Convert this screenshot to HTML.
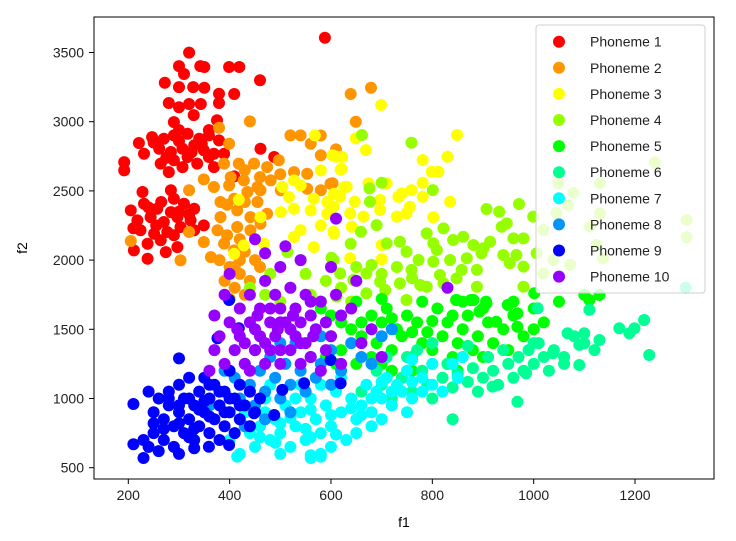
<!DOCTYPE html>
<html><head><meta charset="utf-8"><style>
html,body{margin:0;padding:0;background:#fff;}
svg{display:block;font-family:"Liberation Sans","DejaVu Sans",sans-serif;}
</style></head><body>
<svg id="chart" width="736" height="541" viewBox="0 0 736 541" xmlns="http://www.w3.org/2000/svg">
<rect x="0" y="0" width="736" height="541" fill="#fff"/>
<g id="points"></g>
<rect x="94" y="17" width="620" height="462" fill="none" stroke="#000" stroke-width="1"/>
<g id="xaxis"></g>
<g id="yaxis"></g>
<text x="404" y="527" font-size="14" text-anchor="middle" fill="#000">f1</text>
<text x="0" y="0" font-size="14" text-anchor="middle" fill="#000" transform="translate(27,248) rotate(-90)">f2</text>
<g id="legend"></g>
</svg>
<script>
const xTicks=[200,400,600,800,1000,1200];
const yTicks=[500,1000,1500,2000,2500,3000,3500];
const seriesNames=["Phoneme 1","Phoneme 2","Phoneme 3","Phoneme 4","Phoneme 5","Phoneme 6","Phoneme 7","Phoneme 8","Phoneme 9","Phoneme 10"];
const seriesColors=["#ff0000","#ff9500","#ffff00","#95ff00","#00ff00","#00ff95","#00ffff","#0095ff","#0000ff","#9500ff"];
const p1=[[588,3607],[320,3499],[300,3402],[342,3402],[350,3395],[399,3395],[419,3395],[310,3345],[460,3300],[272,3282],[300,3250],[328,3250],[350,3245],[379,3202],[409,3200],[280,3135],[300,3105],[320,3128],[343,3128],[379,3135],[329,3048],[290,2997],[375,3011],[300,2939],[359,2939],[221,2846],[247,2889],[270,2877],[290,2901],[317,2913],[340,2877],[359,2901],[379,2865],[231,2769],[261,2805],[284,2781],[307,2805],[330,2829],[349,2793],[369,2769],[264,2697],[290,2721],[317,2745],[336,2697],[359,2745],[389,2769],[280,2636],[307,2672],[369,2672],[192,2708],[192,2648],[461,2805],[488,2745],[409,2605],[228,2492],[284,2504],[205,2359],[231,2407],[257,2371],[290,2444],[310,2407],[330,2371],[218,2287],[244,2311],[270,2275],[297,2311],[323,2287],[349,2251],[224,2215],[251,2191],[277,2203],[303,2239],[238,2118],[264,2143],[297,2094],[238,2010],[274,2058],[211,2070],[330,2215],[284,2347],[250,2850],[300,2860],[325,2780],[275,2740],[345,2840],[240,2380],[265,2420],[300,2350],[255,2250],[290,2180],[320,2330],[210,2230]];
const p2=[[440,3002],[379,2957],[399,2841],[520,2901],[540,2901],[560,2841],[580,2757],[389,2697],[418,2697],[448,2697],[474,2672],[497,2721],[527,2636],[553,2624],[402,2600],[349,2583],[369,2528],[399,2540],[428,2576],[455,2528],[481,2576],[320,2504],[382,2420],[409,2444],[435,2492],[461,2504],[501,2504],[553,2516],[580,2504],[599,2552],[382,2311],[415,2359],[441,2311],[474,2335],[415,2239],[441,2215],[376,2215],[320,2203],[205,2138],[349,2131],[389,2119],[409,2070],[363,2022],[303,1998],[461,2263],[400,1950],[420,1900],[440,1850],[410,1800],[430,1750],[400,1720],[460,1950],[390,1850],[450,2000],[420,2000],[380,2000],[639,3200],[679,3246],[649,2999],[603,2555],[580,2900],[610,2800],[430,2650],[460,2600],[500,2620],[395,2400],[430,2420],[455,2420],[420,2150],[395,2180],[430,2060],[410,1950]];
const p3=[[568,2901],[603,2757],[622,2745],[580,2648],[619,2653],[527,2576],[504,2528],[540,2540],[606,2480],[626,2528],[418,2436],[517,2456],[566,2444],[593,2420],[461,2311],[501,2347],[527,2371],[560,2359],[593,2335],[540,2215],[580,2251],[428,2106],[468,2118],[409,2046],[527,2167],[566,2094],[606,2191],[699,3121],[849,2904],[649,2880],[669,2795],[611,2747],[621,2747],[781,2723],[830,2747],[621,2658],[799,2639],[812,2639],[674,2555],[710,2555],[781,2559],[631,2530],[740,2482],[759,2506],[733,2458],[781,2458],[835,2422],[618,2458],[647,2422],[697,2434],[756,2386],[605,2386],[638,2338],[664,2314],[697,2362],[730,2314],[749,2338],[802,2309],[605,2205],[641,2241],[700,2109],[700,2006],[638,2013]];
const p4=[[661,2904],[759,2848],[700,2559],[676,2518],[801,2506],[677,2422],[907,2369],[932,2350],[971,2405],[999,2314],[690,2253],[659,2205],[789,2193],[822,2229],[947,2265],[937,2241],[914,2133],[960,2157],[980,2157],[736,2133],[802,2121],[861,2169],[841,2145],[881,2109],[710,2121],[749,2061],[809,2073],[901,2085],[940,2037],[966,2037],[773,2001],[802,1989],[835,2001],[868,2013],[897,2049],[953,1977],[980,1953],[605,2001],[680,1965],[759,1929],[815,1892],[858,1929],[888,1929],[822,1832],[848,1868],[776,1820],[789,1808],[618,1904],[644,1856],[670,1904],[697,1844],[736,1832],[888,1808],[980,1808],[749,1712],[611,1736],[670,1760],[707,1784],[1239,2706],[1131,2555],[1078,2487],[1049,2555],[1068,2398],[1131,2338],[1045,2338],[1111,2242],[1302,2290],[1302,2165],[1019,2218],[1006,2049],[1039,2001],[1072,1965],[1137,2013],[1019,1904],[1124,2109],[514,2058],[601,2017],[639,2118],[480,1900],[520,1800],[550,1900],[500,1700],[560,1750],[540,2000],[590,1850],[580,1700],[470,1750],[440,1800],[620,1800],[650,1950],[700,1900],[730,1950],[760,1870],[640,1700]];
const p5=[[560,1700],[580,1650],[600,1600],[620,1550],[650,1700],[640,1500],[660,1450],[680,1600],[690,1400],[700,1550],[710,1650],[720,1350],[730,1500],[740,1450],[750,1600],[760,1300],[770,1550],[780,1400],[790,1480],[800,1350],[810,1650],[820,1450],[830,1550],[840,1300],[850,1400],[860,1500],[870,1600],[880,1350],[890,1450],[900,1650],[910,1550],[920,1400],[940,1500],[960,1600],[980,1450],[1000,1650],[1020,1550],[1050,1700],[1100,1750],[600,1450],[620,1350],[650,1250],[700,1250],[720,1200],[680,1300],[760,1200],[800,1250],[850,1200],[900,1300],[950,1350],[1000,1500],[590,1300],[610,1250],[860,1700],[960,1700],[830,1250],[780,1700],[700,1720],[848,1712],[881,1712],[907,1688],[950,1676],[1001,1760],[949,1676],[968,1615],[926,1555],[893,1628],[906,1700],[876,1712],[847,1712],[968,1519],[1110,1712],[1130,1748],[660,1550],[720,1580],[760,1480],[800,1560],[840,1600]];
const p6=[[660,1050],[700,1100],[720,1000],[740,1150],[760,1050],[780,1200],[790,1100],[800,1000],[820,1150],[830,1250],[840,1080],[850,1180],[860,1300],[870,1120],[880,1220],[890,1050],[900,1150],[910,1300],[920,1200],[930,1100],[940,1350],[950,1250],[960,1150],[970,1300],[980,1200],[990,1350],[1000,1250],[1010,1400],[1020,1300],[1030,1200],[1040,1350],[1060,1300],[1080,1450],[1100,1400],[1120,1350],[1300,1800],[1060,1250],[1000,1400],[840,850],[750,1300],[800,1400],[870,1380],[690,1200],[710,1300],[770,1350],[1169,1507],[1199,1507],[1218,1567],[1189,1471],[1228,1314],[1130,1423],[1100,1471],[1090,1387],[1067,1471],[1090,1242],[1038,1327],[1008,1652],[1110,1640],[968,977],[919,1086],[985,1182]];
const p7=[[400,700],[420,600],[440,750],[450,650],[460,800],[470,900],[480,700],[490,850],[500,750],[510,950],[520,650],[530,800],[540,900],[550,700],[560,1000],[560,570],[570,850],[580,580],[580,750],[590,950],[600,800],[610,1050],[620,900],[630,700],[640,1000],[650,850],[660,950],[670,1100],[680,900],[690,1050],[700,1000],[710,1150],[720,950],[730,1100],[740,1050],[750,1200],[760,1000],[780,1150],[800,1100],[820,1050],[850,1150],[840,1250],[500,600],[530,1000],[470,1000],[600,650],[650,750],[700,850],[620,1150],[580,1100],[430,900],[480,1100],[540,1100],[750,900],[680,800],[800,1250],[860,1300],[760,1280],[415,580],[560,590],[580,600],[520,860],[560,920],[600,880],[640,930],[680,1000],[720,1050],[500,820],[460,720],[550,780],[610,740],[660,880],[700,1120],[760,1120],[780,1050],[560,720],[490,680]];
const p8=[[360,950],[380,1050],[400,900],[410,1150],[420,1000],[430,1250],[440,1100],[450,950],[460,1200],[470,1050],[480,1300],[490,1150],[500,1000],[510,1250],[520,1100],[530,1400],[540,1200],[550,1050],[560,1300],[570,1150],[580,1250],[600,1350],[620,1200],[640,1400],[660,1300],[700,1450],[720,1500],[470,850],[520,900],[450,1350],[580,1450],[600,1100],[500,1400],[680,1250],[430,800],[390,1200]];
const p9=[[210,960],[210,670],[230,700],[230,570],[240,1050],[240,650],[250,900],[250,750],[260,1000],[260,620],[270,850],[270,700],[280,950],[280,1050],[290,800],[290,650],[300,1100],[300,900],[300,600],[310,1000],[310,750],[320,850],[320,1150],[330,950],[330,700],[340,1050],[340,800],[350,900],[350,1150],[360,1000],[360,750],[370,850],[370,1100],[380,950],[380,700],[390,1050],[390,800],[400,900],[400,1200],[410,1000],[410,750],[420,850],[420,1100],[430,950],[440,1050],[440,800],[450,900],[460,1000],[300,1290],[330,640],[359,652],[399,664],[399,1712],[376,1435],[418,1507],[599,1278],[619,1110],[547,1110],[448,893],[488,881],[504,1062],[280,1000],[300,950],[320,1000],[340,920],[360,870],[380,1050],[300,820],[330,780],[360,1100],[400,1000],[420,950],[270,780],[250,820],[350,980],[390,900],[320,720]];
const p10=[[370,1350],[380,1450],[390,1250],[400,1550],[400,1900],[410,1350],[420,1450],[420,1650],[430,1250],[440,1550],[440,1750],[450,1350],[450,2150],[460,1450],[460,1650],[470,1250],[470,1850],[480,1550],[480,1350],[490,1750],[490,1450],[500,1650],[500,1250],[510,1550],[510,2100],[520,1350],[520,1800],[530,1450],[530,1650],[540,1550],[540,1250],[550,1750],[550,1400],[560,1600],[560,1300],[570,1500],[580,1700],[580,1200],[600,1450],[610,2300],[620,1600],[650,1850],[680,1500],[700,1300],[830,1800],[390,1750],[360,1200],[470,2050],[540,2000],[600,1950],[500,1950],[590,1350],[620,1250],[440,1200],[370,1600],[415,1500],[455,1600],[495,1500],[525,1600],[565,1450],[470,1400],[500,1350],[520,1500],[540,1400],[560,1700],[500,1550],[480,1650],[450,1500],[430,1400],[590,1550],[610,1750],[640,1650],[660,1400]];
const allSeries=[p1,p2,p3,p4,p5,p6,p7,p8,p9,p10];

const NS="http://www.w3.org/2000/svg";
function xs(v){return 128.3+(v-200)*0.5067;}
function ys(v){return 467.7-(v-500)*0.1384;}
const gp=document.getElementById('points');
allSeries.forEach(function(ser,si){
  ser.forEach(function(pt){
    const c=document.createElementNS(NS,'circle');
    c.setAttribute('cx',xs(pt[0]).toFixed(1));
    c.setAttribute('cy',ys(pt[1]).toFixed(1));
    c.setAttribute('r','6');
    c.setAttribute('fill',seriesColors[si]);
    
    
    gp.appendChild(c);
  });
});
const gx=document.getElementById('xaxis');
xTicks.forEach(function(t){
  const x=xs(t);
  const l=document.createElementNS(NS,'line');
  l.setAttribute('x1',x);l.setAttribute('x2',x);l.setAttribute('y1',479);l.setAttribute('y2',484);
  l.setAttribute('stroke','#000');
  
  
  gx.appendChild(l);
  const tx=document.createElementNS(NS,'text');
  tx.setAttribute('x',x);tx.setAttribute('y',500);
  tx.setAttribute('font-size','14');tx.setAttribute('text-anchor','middle');tx.setAttribute('fill','#222');
  tx.textContent=t;
  
  
  gx.appendChild(tx);
});
const gy=document.getElementById('yaxis');
yTicks.forEach(function(t){
  const y=ys(t);
  const l=document.createElementNS(NS,'line');
  l.setAttribute('x1',89);l.setAttribute('x2',94);l.setAttribute('y1',y);l.setAttribute('y2',y);
  l.setAttribute('stroke','#000');
  
  
  gy.appendChild(l);
  const tx=document.createElementNS(NS,'text');
  tx.setAttribute('x',84);tx.setAttribute('y',y+5);
  tx.setAttribute('font-size','14');tx.setAttribute('text-anchor','end');tx.setAttribute('fill','#222');
  tx.textContent=t;
  
  
  gy.appendChild(tx);
});
const gl=document.getElementById('legend');
const box=document.createElementNS(NS,'rect');
box.setAttribute('x',536);box.setAttribute('y',25);box.setAttribute('width',169);box.setAttribute('height',268);
box.setAttribute('rx',3);box.setAttribute('fill','rgba(255,255,255,0.8)');box.setAttribute('stroke','#d0d0d0');


gl.appendChild(box);
seriesNames.forEach(function(n,i){
  const y=41.7+i*26.1;
  const c=document.createElementNS(NS,'circle');
  c.setAttribute('cx',559);c.setAttribute('cy',y);c.setAttribute('r',6);c.setAttribute('fill',seriesColors[i]);
  
  
  gl.appendChild(c);
  const t=document.createElementNS(NS,'text');
  t.setAttribute('x',590);t.setAttribute('y',y+5);t.setAttribute('font-size','14');t.setAttribute('fill','#222');
  t.textContent=n;
  
  
  gl.appendChild(t);
});
</script>
</body></html>
